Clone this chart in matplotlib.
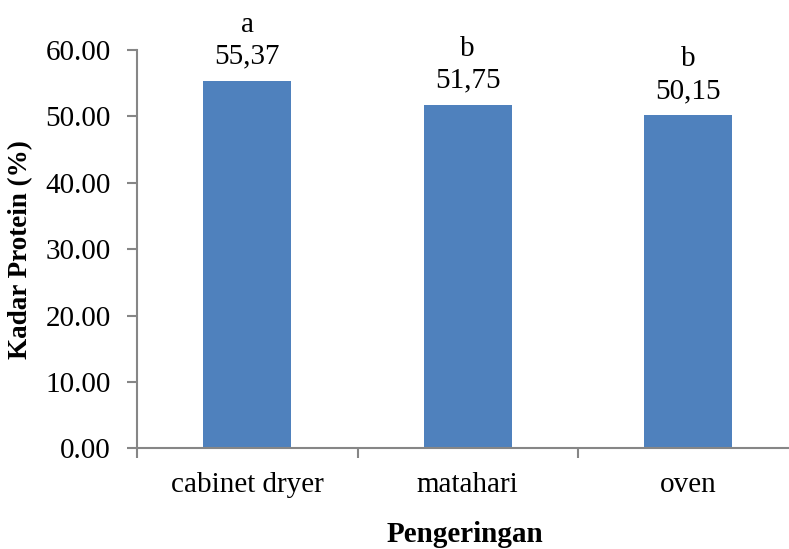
import matplotlib
matplotlib.use('Agg')
import matplotlib.pyplot as plt

plt.rcParams['font.family'] = ['Liberation Serif', 'DejaVu Serif']

# data
categories = ['cabinet dryer', 'matahari', 'oven']
protein = [55.37, 51.75, 50.15]
value_labels = ['55,37', '51,75', '50,15']
letters = ['a', 'b', 'b']
y_ticks = [0, 10, 20, 30, 40, 50, 60]

bar_color = '#4F81BD'
axis_color = '#868686'
fs = 21

fig = plt.figure(figsize=(7.89, 5.49), dpi=100)
ax = fig.add_axes([137 / 789, 100.7 / 549, 661.5 / 789, 398.3 / 549])

x = list(range(len(categories)))
bars = ax.bar(x, protein, width=0.4, color=bar_color, zorder=2)

# labels above bars
for b, lt, vl in zip(bars, letters, value_labels):
    ax.annotate(lt + '\n' + vl, (b.get_x() + b.get_width() / 2, b.get_height()),
                xytext=(0, 8), textcoords='offset points',
                ha='center', va='bottom', fontsize=fs,
                linespacing=1.3, annotation_clip=False)

ax.set_xlim(-0.5, 2.5)
ax.set_ylim(0, 60)
ax.set_yticks(y_ticks)
ax.set_yticklabels(['%.2f' % v for v in y_ticks], fontsize=fs)

# category ticks between bars, labels centred under bars
ax.set_xticks([-0.5, 0.5, 1.5, 2.5])
ax.set_xticklabels([])
ax.set_xticks(x, minor=True)
ax.set_xticklabels(categories, minor=True, fontsize=fs)
ax.tick_params(axis='x', which='minor', length=0, pad=17)
ax.tick_params(axis='x', which='major', length=7, width=1.5, color=axis_color)
ax.tick_params(axis='y', length=7, width=1.5, color=axis_color, pad=12)

for s in ['top', 'right']:
    ax.spines[s].set_visible(False)
for s in ['left', 'bottom']:
    ax.spines[s].set_color(axis_color)
    ax.spines[s].set_linewidth(1.5)

ax.set_ylabel('Kadar Protein (%)', fontsize=19.5, fontweight='bold', labelpad=9)
fig.text(465 / 789, 1 - 542 / 549, 'Pengeringan', fontsize=fs, fontweight='bold',
         ha='center', va='baseline')

plt.savefig('out.png', dpi=100)
